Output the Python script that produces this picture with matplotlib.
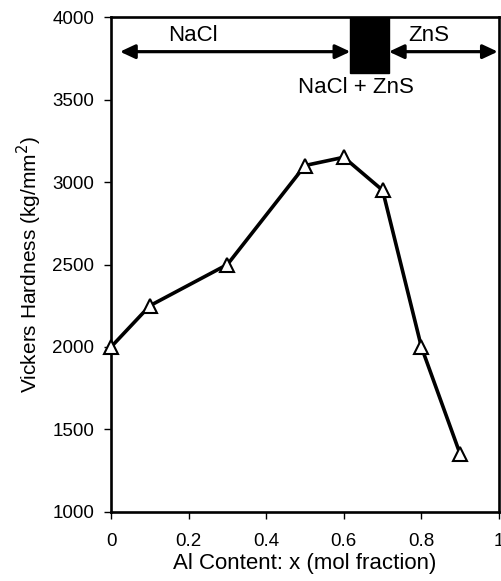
import matplotlib
matplotlib.use("Agg")
import matplotlib.pyplot as plt
from matplotlib.patches import Rectangle

plt.rcParams['font.family'] = ['Liberation Sans', 'DejaVu Sans']

x_content = [0.0, 0.1, 0.3, 0.5, 0.6, 0.7, 0.8, 0.9]
hardness = [2000, 2250, 2500, 3100, 3150, 2950, 2000, 1350]
x_ticks = [0, 0.2, 0.4, 0.6, 0.8, 1.0]
x_ticklabels = ["0", "0.2", "0.4", "0.6", "0.8", "1"]
y_ticks = [1000, 1500, 2000, 2500, 3000, 3500, 4000]

# phase regions
nacl_range = (0.023, 0.617)
mixed_range = (0.617, 0.716)
zns_range = (0.716, 0.997)
arrow_y = 3790
box_bottom = 3660

fig = plt.figure(figsize=(5.01, 5.81), dpi=100)
ax = fig.add_axes([0.2216, 0.1188, 0.7744, 0.8519])

ax.plot(x_content, hardness, color='black', lw=2.6, marker='^', ms=10,
        mfc='white', mec='black', mew=1.5, zorder=3, clip_on=False)

ax.set_xlim(0, 1)
ax.set_ylim(1000, 4000)
ax.set_xticks(x_ticks)
ax.set_xticklabels(x_ticklabels)
ax.set_yticks(y_ticks)
ax.tick_params(direction='out', length=5, width=1, labelsize=13.5, color='black')
ax.tick_params(axis='x', pad=10)
ax.tick_params(axis='y', pad=7)
for s in ax.spines.values():
    s.set_linewidth(1.9)

ax.set_xlabel("Al Content: x (mol fraction)", fontsize=16, labelpad=2)
ax.set_ylabel("Vickers Hardness (kg/mm$^2$)", fontsize=15, labelpad=6)

# mixed-phase block
ax.add_patch(Rectangle((mixed_range[0], box_bottom), mixed_range[1] - mixed_range[0],
                       4000 - box_bottom, facecolor='black', edgecolor='black', zorder=2))

arrowprops = dict(arrowstyle='<|-|>,head_length=0.9,head_width=0.42', color='black',
                  lw=2.3, shrinkA=0, shrinkB=0)
ax.annotate('', xy=(nacl_range[0], arrow_y), xytext=(nacl_range[1], arrow_y),
            arrowprops=arrowprops)
ax.annotate('', xy=(zns_range[0], arrow_y), xytext=(zns_range[1], arrow_y),
            arrowprops=arrowprops)

ax.text(0.21, 3885, "NaCl", ha='center', va='center', fontsize=16)
ax.text(0.82, 3885, "ZnS", ha='center', va='center', fontsize=16)
ax.text(0.63, 3570, "NaCl + ZnS", ha='center', va='center', fontsize=16)

fig.savefig("out.png", dpi=100)
